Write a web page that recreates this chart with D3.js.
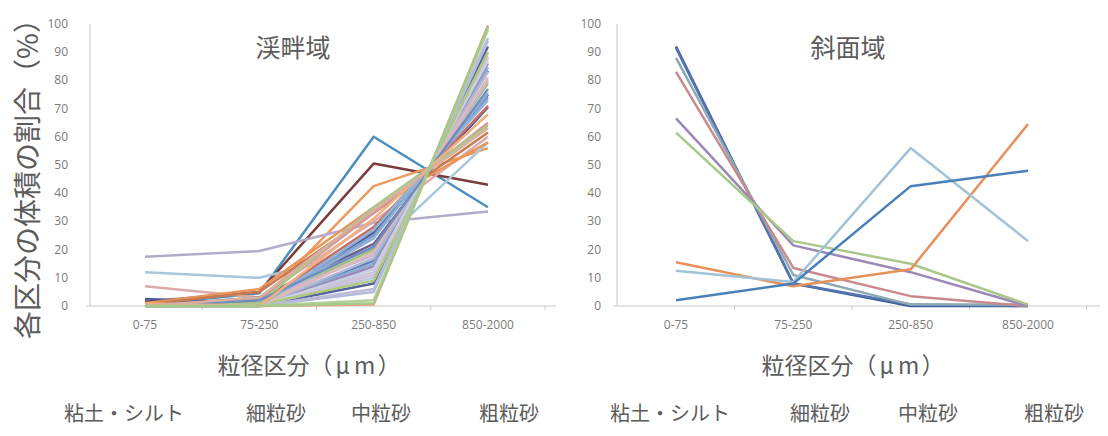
<!DOCTYPE html>
<html lang="ja">
<head>
    <meta charset="UTF-8">
    <title>粒径区分ごとの体積割合</title>
    <script src="https://d3js.org/d3.v7.min.js"></script>
    <style>
        body {
            margin: 0;
            background-color: #fff;
        }
        .tick-label {
            font-family: "Open Sans", "Liberation Sans", sans-serif;
            font-size: 12px;
            fill: #7a7a7a;
        }
        .jp {
            font-family: "Noto Sans CJK JP", "Noto Sans", sans-serif;
            fill: #5c5c5c;
        }
        .axis-line {
            stroke: #c8c8c8;
            stroke-width: 1px;
        }
        .series {
            fill: none;
            stroke-width: 2.5px;
            stroke-linejoin: round;
        }
    </style>
</head>
<body>
    <svg id="chart" width="1108" height="436"></svg>

    <script>
        // 粒径区分
        const categories = ["0-75", "75-250", "250-850", "850-2000"];
        const classNames = ["粘土・シルト", "細粒砂", "中粒砂", "粗粒砂"];
        const yTicks = [0, 10, 20, 30, 40, 50, 60, 70, 80, 90, 100];

        // 渓畔域 (各地点の値: 0-75, 75-250, 250-850, 850-2000)
        const riparianValues = [
            [0.5, 4.5, 60, 35],
            [1.5, 5, 50.5, 43],
            [0.5, 1, 42.5, 56],
            [17.5, 19.5, 29.5, 33.5],
            [12, 10, 20, 58],
            [7, 3, 30, 60],
            [2.5, 1, 26, 70.5],
            [1, 6, 35, 58],
            [0.5, 5, 33, 61.5],
            [0, 3, 22, 75],
            [0, 1, 25, 74],
            [0, 0.5, 16, 83.5],
            [0, 0.5, 15, 84.5],
            [0, 0, 8, 92],
            [0, 0, 6, 94],
            [0, 1, 20, 79],
            [0, 2, 18, 80],
            [0, 0, 12, 88],
            [0, 0, 10, 90],
            [0, 1, 28, 71],
            [0, 2, 33, 65],
            [0, 1, 35, 64],
            [0, 0.5, 24, 75.5],
            [0, 0, 14, 86],
            [0, 0, 17, 83],
            [0, 0.5, 11, 88.5],
            [0, 0, 13, 87],
            [0.5, 0.5, 9, 90],
            [0, 0, 19, 81],
            [0, 0, 27, 73],
            [0, 2, 21, 77],
            [1, 0, 31, 68],
            [0, 0, 5, 95],
            [0, 3, 34, 63],
            [0, 0, 0.5, 99.5],
            [0, 0, 2, 98],
            [0, 0, 1, 99]
        ];
        const riparianColors = [
            "#4a8fbe", "#7d3c3c", "#ec9a5e", "#b4aacb", "#a9c6db", "#dcaaa8",
            "#4a5c98", "#e8955c", "#c87a52", "#6e5e8c", "#7a9acb", "#5f7fb8",
            "#8aaed4", "#5363a0", "#c0bcd8", "#9ec27e", "#c9b5d6", "#c5c5dd",
            "#b8c8e0", "#c86a68", "#d49a98", "#a8c88a", "#8fb0d6", "#9a88b8",
            "#b0b8d8", "#d0c0d8", "#c8d0e4", "#afc97a", "#e0b8b8", "#94b4d4",
            "#6f8cc0", "#f2b080", "#b4bcd8", "#d8b0a0", "#e9a07a", "#b2d09a",
            "#a5c98a"
        ];

        // 斜面域
        const slopeValues = [
            [92, 8, 0, 0],
            [91.5, 8, 0.5, 0],
            [88, 11, 0.5, 0.5],
            [83, 13.5, 3.5, 0],
            [66.5, 21.5, 12, 0],
            [61.5, 23, 15, 0.5],
            [15.5, 7, 13, 64.5],
            [12.5, 8.5, 56, 23],
            [2, 8, 42.5, 48]
        ];
        const slopeColors = [
            "#3c5a9a", "#5275b0", "#8ea9b4", "#c98a8e", "#9a88b8",
            "#a9c88a", "#e8905a", "#a2c2d6", "#4a7fb8"
        ];

        const svg = d3.select("#chart");
        const y = d3.scaleLinear().domain([0, 100]).range([306, 24]);

        // パネル描画
        function drawPanel(opt) {
            const g = svg.append("g");
            const x = d3.scalePoint().domain(categories).range(opt.xRange);
            const step = x.step();

            // 軸
            g.append("line").attr("class", "axis-line")
                .attr("x1", opt.axisX).attr("x2", opt.axisX)
                .attr("y1", y(100)).attr("y2", y(0));
            g.append("line").attr("class", "axis-line")
                .attr("x1", opt.axisX - 4).attr("x2", opt.xEnd)
                .attr("y1", y(0)).attr("y2", y(0));
            g.selectAll(".xtick")
                .data(categories)
                .enter()
                .append("line")
                .attr("class", "axis-line")
                .attr("x1", d => x(d) + step / 2)
                .attr("x2", d => x(d) + step / 2)
                .attr("y1", y(0))
                .attr("y2", y(0) + 4);

            g.selectAll(".ylab")
                .data(yTicks)
                .enter()
                .append("text")
                .attr("class", "tick-label")
                .attr("x", opt.tickX)
                .attr("y", d => y(d) + 4)
                .attr("text-anchor", "end")
                .text(d => d);

            g.selectAll(".xlab")
                .data(categories)
                .enter()
                .append("text")
                .attr("class", "tick-label")
                .attr("x", d => x(d))
                .attr("y", 329)
                .attr("text-anchor", "middle")
                .text(d => d);

            // 系列
            const line = d3.line()
                .x((d, i) => x(categories[i]))
                .y(d => y(d));

            g.selectAll(".series")
                .data(opt.values)
                .enter()
                .append("path")
                .attr("class", "series")
                .attr("stroke", (d, i) => opt.colors[i])
                .attr("d", line);

            // タイトル
            g.append("text")
                .attr("class", "jp")
                .attr("x", opt.titleX)
                .attr("y", 57)
                .attr("text-anchor", "middle")
                .style("font-size", "25px")
                .text(opt.title);

            const xt = g.append("text")
                .attr("class", "jp")
                .attr("x", opt.xTitleX)
                .attr("y", 374)
                .attr("text-anchor", "middle")
                .style("font-size", "23px");
            xt.append("tspan").text("粒径区分（");
            xt.append("tspan").attr("dx", 3).text("μ");
            xt.append("tspan").attr("dx", 4).text("m");
            xt.append("tspan").attr("dx", 2).text("）");

            g.selectAll(".cls")
                .data(classNames)
                .enter()
                .append("text")
                .attr("class", "jp")
                .attr("x", (d, i) => opt.classX[i])
                .attr("y", 421)
                .attr("text-anchor", "middle")
                .style("font-size", "20px")
                .text(d => d);
        }

        drawPanel({
            title: "渓畔域",
            values: riparianValues,
            colors: riparianColors,
            xRange: [145, 488],
            axisX: 90,
            xEnd: 556,
            tickX: 68,
            titleX: 293,
            xTitleX: 309,
            classX: [124, 276, 381, 509]
        });

        drawPanel({
            title: "斜面域",
            values: slopeValues,
            colors: slopeColors,
            xRange: [676, 1028],
            axisX: 617,
            xEnd: 1100,
            tickX: 601,
            titleX: 848,
            xTitleX: 853,
            classX: [670, 820, 928, 1054]
        });

        // 縦軸ラベル
        svg.append("text")
            .attr("class", "jp")
            .attr("transform", "translate(38,172) rotate(-90)")
            .attr("text-anchor", "middle")
            .style("font-size", "28px")
            .text("各区分の体積の割合（%）");
    </script>
</body>
</html>
